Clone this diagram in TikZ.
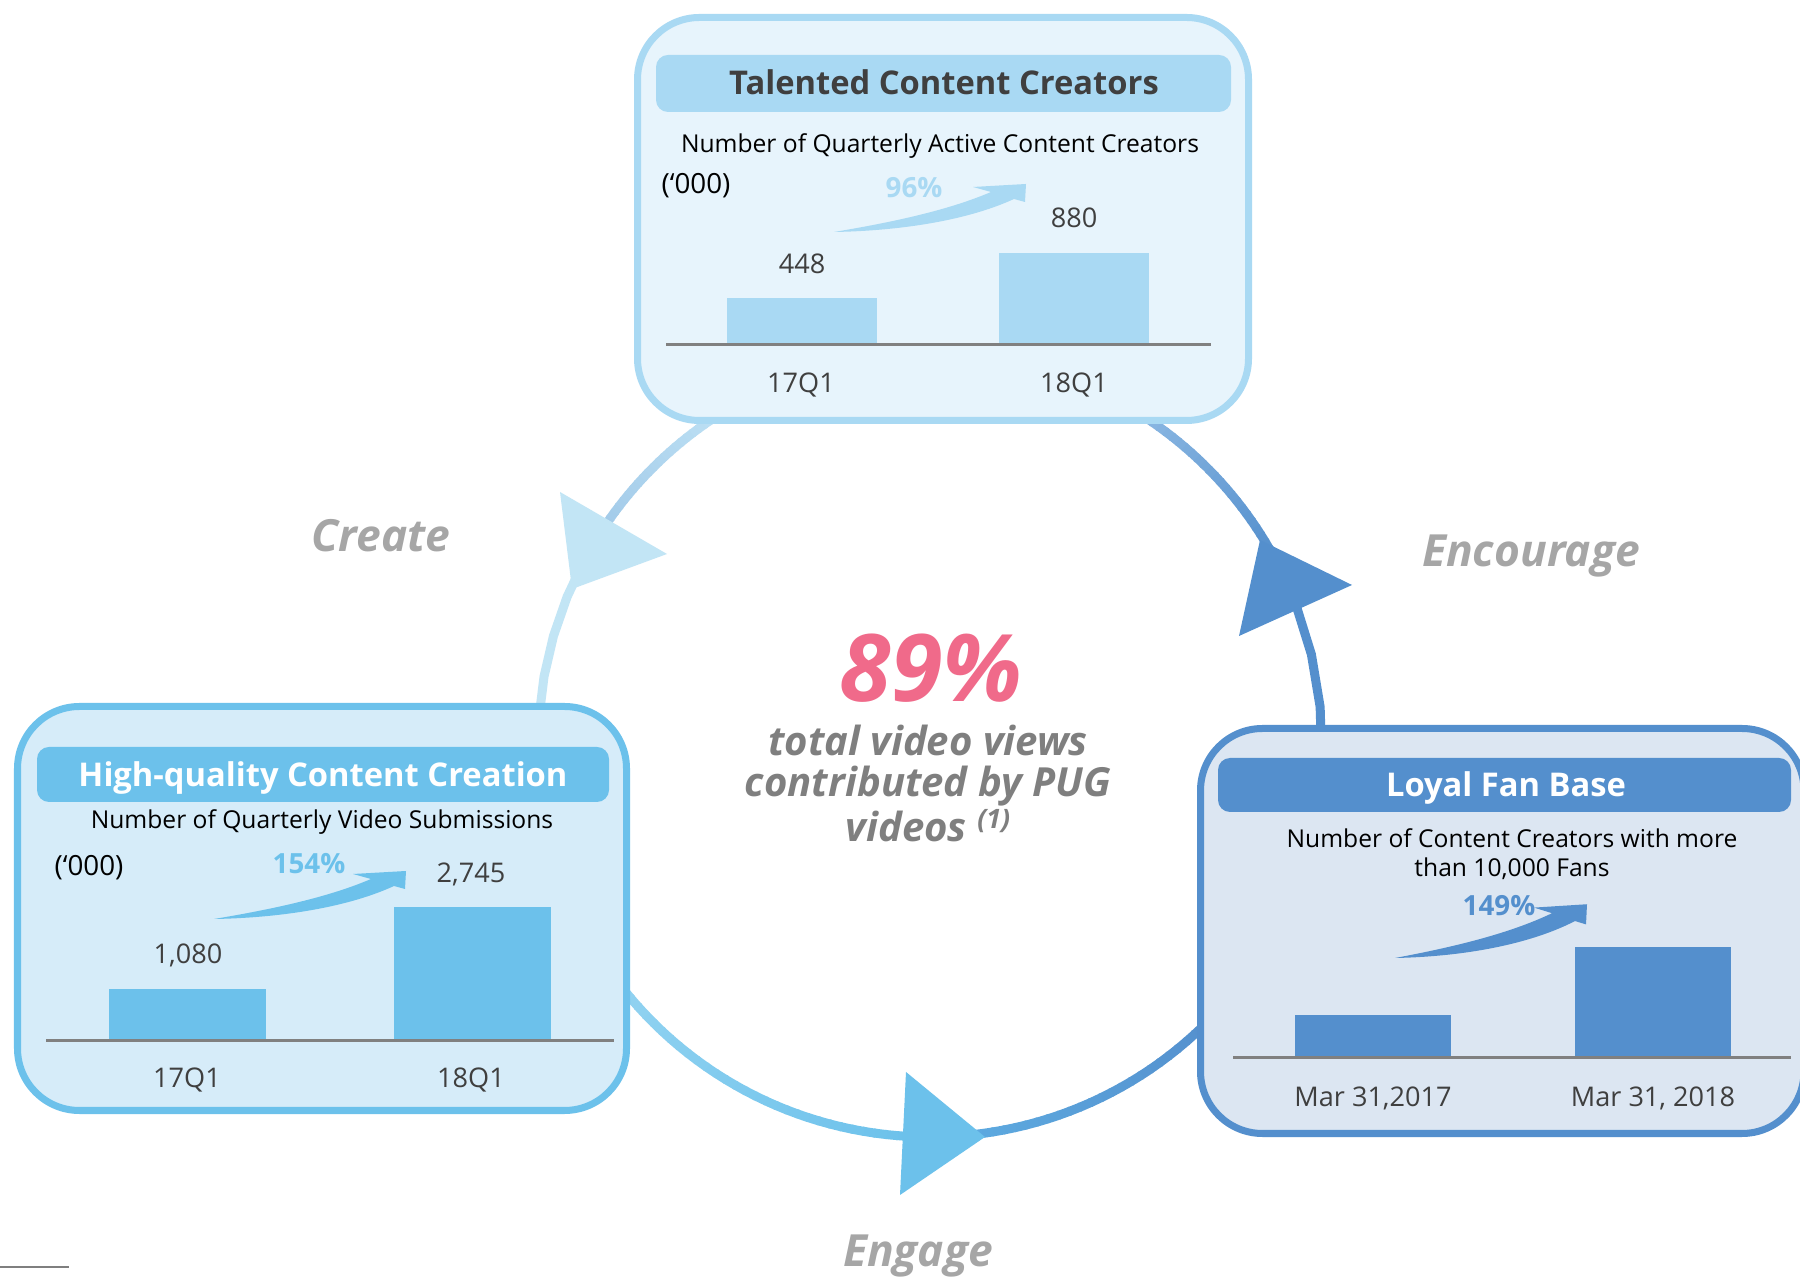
\documentclass[tikz,border=0pt]{standalone}
\usepackage{fontspec}
\setmainfont{Open Sans}
\definecolor{cTop}{HTML}{A9D9F3}
\definecolor{cTopFill}{HTML}{E7F4FC}
\definecolor{cLeft}{HTML}{6CC1EB}
\definecolor{cLeftFill}{HTML}{D6ECF9}
\definecolor{cRight}{HTML}{548FCD}
\definecolor{cRightFill}{HTML}{DCE6F2}
\definecolor{cDark}{HTML}{3F3F3F}
\definecolor{cAxis}{HTML}{808080}
\definecolor{cPink}{HTML}{F06A8A}
\definecolor{cMid}{HTML}{7F7F7F}
\definecolor{cCyc}{HTML}{A6A6A6}
\definecolor{cTriA}{HTML}{C2E5F5}
\definecolor{cArcA}{HTML}{A0C8E8}
\definecolor{cArcAb}{HTML}{BDE1F4}
\definecolor{cArcB}{HTML}{8DB9E3}
\definecolor{cArcCa}{HTML}{5DAAE0}
\definecolor{cArcCb}{HTML}{92D3F1}
\tikzset{
 ring/.style={line width=0.09cm},
 boxline/.style={line width=0.07cm, rounded corners=0.62cm},
 hdr/.style={rounded corners=0.12cm},
 ttl/.style={inner sep=0, anchor=base, font=\fontsize{9.3pt}{11pt}\selectfont\bfseries},
 sub/.style={inner sep=0, anchor=base, font=\fontsize{7pt}{8.3pt}\selectfont, text=black},
 val/.style={inner sep=0, anchor=base, font=\fontsize{7.7pt}{9pt}\selectfont, text=cDark},
 unit/.style={inner sep=0, anchor=base, font=\fontsize{7.9pt}{9pt}\selectfont, text=black},
 pct/.style={inner sep=0, anchor=base, font=\fontsize{7.9pt}{9pt}\selectfont\bfseries},
 axisline/.style={cAxis, line width=0.03cm},
 cyc/.style={inner sep=0, anchor=base, font=\fontsize{12.6pt}{14pt}\selectfont\bfseries\itshape, text=cCyc},
 mid/.style={inner sep=0, anchor=base, font=\fontsize{11.4pt}{13pt}\selectfont\bfseries\itshape, text=cMid},
}
\newcommand\ringseg[5]{%
 \foreach \i in {1,...,#5}{%
   \pgfmathsetmacro\ta{#1+(\i-1)*(#2-#1)/#5}%
   \pgfmathsetmacro\tb{#1+\i*(#2-#1)/#5+0.25}%
   \pgfmathsetmacro\pc{100*(\i-0.5)/#5}%
   \draw[ring, color=#4!\pc!#3] plot[domain=\ta:\tb, samples=5] ({930+392*cos(\x)},{745+392*sin(\x)});
 }}
\newcommand\growarrow[3]{%
 \begin{scope}[shift={#1}, yscale=#3]
 \fill[#2] (0,0) .. controls (60,-10) and (115,-22) .. (157,-40) -- (139,-45) -- (192,-48) -- (191,-30) -- (180,-33) .. controls (130,-10) and (60,-1) .. (0,0) -- cycle;
 \end{scope}}
\begin{document}
\begin{tikzpicture}[x=0.01cm,y=-0.01cm]
\useasboundingbox (0,0) rectangle (1800,1277);
\clip (0,0) rectangle (1800,1277);
\fill[white] (0,0) rectangle (1800,1277);
% cycle ring
\ringseg{184}{208}{cTriA}{cTriA}{1}
\ringseg{212}{238}{cArcA}{cArcAb}{24}
\ringseg{302}{331}{cArcB}{cRight}{24}
\ringseg{331}{362}{cRight}{cRight}{1}
\ringseg{44}{84}{cRight}{cArcCa}{24}
\ringseg{93}{143}{cLeft}{cArcCb}{30}
% arrow heads on the ring
\fill[cTriA] (560,492) -- (667,554) -- (572,589) -- cycle;
\fill[cRight] (1260,540) -- (1352,585) -- (1239,636) -- cycle;
\fill[cLeft] (906,1072) -- (985,1137) -- (900,1195) -- cycle;
% top box
\draw[boxline, draw=cTop, fill=cTopFill] (637.5,17.5) rectangle (1248.5,420.5);
\fill[hdr, cTop] (656,55) rectangle (1231,112);
\node[ttl, text=cDark] (ttop) at (944,95) {Talented Content Creators};
\node[sub] (stop) at (940,153) {Number of Quarterly Active Content Creators};
\node[unit] (utop) at (696,194) {(‘000)};
\growarrow{(834,232)}{cTop}{1}
\node[pct, text=cTop] (ptop) at (914,198) {96\%};
\fill[cTop] (727,298) rectangle (877,345);
\fill[cTop] (999,253) rectangle (1149,345);
\draw[axisline] (666,345) -- (1211,345);
\node[val] (vta) at (802,274) {448};
\node[val] (vtb) at (1074,228) {880};
\node[val] (lta) at (801,393) {17Q1};
\node[val] (ltb) at (1074,393) {18Q1};
% left box
\draw[boxline, draw=cLeft, fill=cLeftFill] (17.5,706.5) rectangle (626.5,1110.5);
\fill[hdr, cLeft] (37,747) rectangle (609,802);
\node[ttl, text=white] (tleft) at (323,787) {High-quality Content Creation};
\node[sub] (sleft) at (322,829) {Number of Quarterly Video Submissions};
\node[unit] (uleft) at (89,876) {(‘000)};
\growarrow{(214,919)}{cLeft}{1}
\node[pct, text=cLeft] (pleft) at (309,874) {154\%};
\fill[cLeft] (109,989) rectangle (266,1041);
\fill[cLeft] (394,907) rectangle (551,1041);
\draw[axisline] (46,1041) -- (614,1041);
\node[val] (vla) at (188,964) {1,080};
\node[val] (vlb) at (471,883) {2,745};
\node[val] (lla) at (187,1088) {17Q1};
\node[val] (llb) at (471,1088) {18Q1};
% right box
\draw[boxline, draw=cRight, fill=cRightFill] (1200.5,728.5) rectangle (1804,1133.5);
\fill[hdr, cRight] (1218,758) rectangle (1791,812);
\node[ttl, text=white] (tright) at (1506,797) {Loyal Fan Base};
\node[sub] (sright) at (1512,848) {Number of Content Creators with more};
\node[sub] (sright2) at (1512,877) {than 10,000 Fans};
\growarrow{(1395,958)}{cRight}{1.12}
\node[pct, text=cRight] (pright) at (1499,916) {149\%};
\fill[cRight] (1295,1015) rectangle (1451,1058);
\fill[cRight] (1575,947) rectangle (1731,1058);
\draw[axisline] (1233,1058) -- (1791,1058);
\node[val] (lra) at (1373,1107) {Mar 31,2017};
\node[val] (lrb) at (1653,1107) {Mar 31, 2018};
% centre
\node[inner sep=0, anchor=base, font=\fontsize{26.5pt}{30pt}\selectfont\bfseries\itshape, text=cPink] (big) at (931,702) {89\%};
\node[mid] (m1) at (928,756) {total video views};
\node[mid] (m2) at (928,797) {contributed by PUG};
\node[mid] (m3) at (928,842) {videos \raisebox{0.33em}{\fontsize{7.6pt}{8pt}\selectfont(1)}};
% cycle labels
\node[cyc] (create) at (381,552) {Create};
\node[cyc] (encourage) at (1531,567) {Encourage};
\node[cyc] (engage) at (918,1267) {Engage};
% footnote rule
\coordinate (fa) at (0,1267);
\coordinate (fb) at (69,1267);
\draw[cMid, line width=0.02cm] (fa) -- (fb);
\end{tikzpicture}
\end{document}
